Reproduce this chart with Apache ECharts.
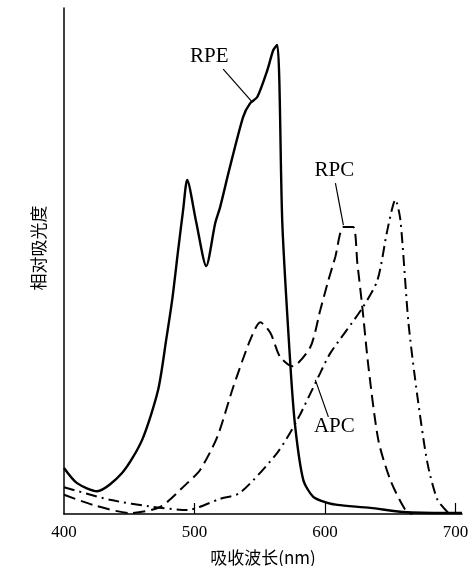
<!DOCTYPE html>
<html><head><meta charset="utf-8">
<script src="https://cdn.jsdelivr.net/npm/echarts@6/dist/echarts.min.js"></script>
<style>html,body{margin:0;padding:0;background:#fff}#c{width:473px;height:566px}</style>
</head><body><div id="c"></div>
<script>
// wavelength (nm), relative absorbance (arbitrary 0-100)
const rpeWave = [400,410,425.3,444.5,459.8,472.1,478.3,482.9,487.5,491.3,494.4,501.3,509,515.9,519.7,526.6,537.3,542.7,548.1,555.8,560.4,563.4,565.0,567.3,573.4,577.2,583.4,591,601.8,609.5,634.8,660.1,693.9,705];
const rpeAbs  = [9.1,6.1,4.5,8.1,14.6,24.5,34.4,42.3,52.2,60.1,66.0,57.7,49.0,57.5,60.7,68.0,78.5,81.2,82.4,87.7,91.7,92.7,85.8,57.5,29.8,17.2,6.7,3.4,2.2,1.8,1.2,0.4,0.2,0.2];
const rpcWave = [400,422.3,450.6,473.7,494.4,504.3,517.4,529.7,542.7,550.4,558.1,565.7,575,588.8,596.4,602.6,607.9,614.1,621.7,624.8,628.6,633.3,640.9,650.1,661.6,667];
const rpcAbs  = [3.8,1.8,0.2,1.4,6.1,8.7,15.2,25.1,34.4,37.9,35.8,31.0,29.2,33.0,40.3,46.2,50.8,56.7,56.7,49.6,40.9,29.1,14.6,6.7,0.8,0];
const apcWave = [400,435.3,468.3,494.4,519.7,535,563.4,578.8,596.4,604.1,628.6,640.2,647.8,654,657.8,664,670.9,678.5,686.2,694.6];
const apcAbs  = [5.3,2.8,1.4,0.8,3.0,4.2,12.1,18.6,27.9,31.8,40.7,46.2,56.1,62.1,58.1,37.7,23.1,10.1,2.8,0.2];
const xTicks = [400,500,600,700];
// annotation labels: [text, textPos, leaderStart, leaderEnd] in data coords
const labels = [
  ['RPE',[511.3,90.5],[522.0,87.9],[544.3,81.4]],
  ['RPC',[607.2,67.8],[608.0,65.4],[614.1,57.1]],
  ['APC',[607.2,17.2],[592.6,26.5],[602.6,19.2]]
];
const zip=(a,b)=>a.map((v,i)=>[v,b[i]]);
const chart = echarts.init(document.getElementById('c'));
const serif = 'Liberation Serif';
chart.setOption({
  animation:false,
  grid:{left:64,right:11,top:8,bottom:52,containLabel:false,outerBoundsMode:'none'},
  xAxis:{type:'value',min:400,max:705,interval:100,
    axisLine:{lineStyle:{color:'#000',width:1.5}},
    axisTick:{inside:true,length:11,lineStyle:{color:'#000',width:1.2},
      customValues:xTicks.slice(1)},
    axisLabel:{color:'#000',fontFamily:serif,fontSize:17,margin:10,
      customValues:xTicks,formatter:v=>String(v)},
    splitLine:{show:false},
    name:'吸收波长(nm)',nameLocation:'middle',nameGap:35,
    nameTextStyle:{color:'#000',fontFamily:'Noto Sans CJK SC',fontSize:17}
  },
  yAxis:{type:'value',min:0,max:100,
    axisLine:{show:true,lineStyle:{color:'#000',width:1.5}},
    axisTick:{show:false},axisLabel:{show:false},splitLine:{show:false},
    name:'相对吸光度',nameLocation:'middle',nameGap:17,
    nameTextStyle:{color:'#000',fontFamily:'Noto Sans CJK SC',fontSize:17,padding:[0,0,0,26]}
  },
  series:[
    {type:'line',data:zip(rpeWave,rpeAbs),showSymbol:false,smooth:0.25,
      lineStyle:{color:'#000',width:2.4,type:'solid'}},
    {type:'line',data:zip(rpcWave,rpcAbs),showSymbol:false,smooth:0.25,
      lineStyle:{color:'#000',width:2,type:[12,6]}},
    {type:'line',data:zip(apcWave,apcAbs),showSymbol:false,smooth:0.25,
      lineStyle:{color:'#000',width:2,type:[11,5,2,5]}}
  ]
});
const g=[];
labels.forEach(l=>{
  const t=chart.convertToPixel({gridIndex:0},l[1]);
  const a=chart.convertToPixel({gridIndex:0},l[2]);
  const b=chart.convertToPixel({gridIndex:0},l[3]);
  g.push({type:'text',x:t[0],y:t[1],style:{text:l[0],fill:'#000',font:'21px "Liberation Serif"',align:'center',verticalAlign:'middle'}});
  g.push({type:'line',shape:{x1:a[0],y1:a[1],x2:b[0],y2:b[1]},style:{stroke:'#000',lineWidth:1.2}});
});
chart.setOption({graphic:g});
</script></body></html>
